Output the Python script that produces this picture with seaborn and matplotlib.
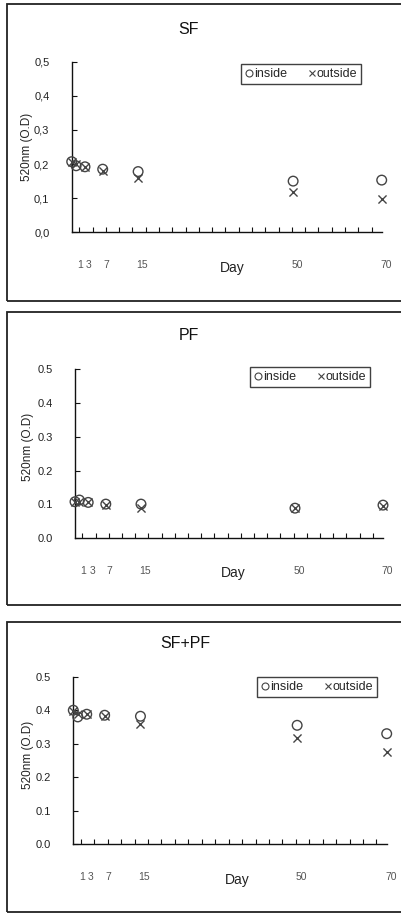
import matplotlib
matplotlib.use("Agg")
import matplotlib.pyplot as plt
import matplotlib.transforms as mtransforms
from matplotlib.lines import Line2D
from matplotlib.patches import Rectangle
import numpy as np
import pandas as pd
import seaborn as sns

days = [0, 1, 3, 7, 15, 50, 70]
day_labels = ["1", "3", "7", "15", "50", "70"]
day_label_pos = [1, 3, 7, 15, 50, 70]

sf_inside = [0.207, 0.195, 0.192, 0.185, 0.178, 0.150, 0.153]
sf_outside = [0.205, 0.200, 0.192, 0.180, 0.160, 0.119, 0.099]
pf_inside = [0.108, 0.113, 0.106, 0.101, 0.101, 0.089, 0.098]
pf_outside = [0.108, 0.108, 0.106, 0.098, 0.089, 0.089, 0.094]
mix_inside = [0.400, 0.380, 0.388, 0.385, 0.382, 0.355, 0.330]
mix_outside = [0.397, 0.390, 0.388, 0.382, 0.360, 0.316, 0.276]

W, H = 402, 913
GRAY = "#444444"

sns.set_style("white")
plt.rcParams["font.family"] = ["Liberation Sans", "DejaVu Sans"]

fig = plt.figure(figsize=(W / 100, H / 100), dpi=100)


def px_axes(left, right, top, bottom):
    return fig.add_axes([left / W, (H - bottom) / H, (right - left) / W, (bottom - top) / H])


def draw_panel(ax, title, inside, outside, comma, title_xy, ylab_xy, day_xy, leg_xy):
    df = pd.DataFrame({"day": days, "inside": inside, "outside": outside})
    sns.scatterplot(data=df, x="day", y="inside", ax=ax, marker="o", s=48,
                    facecolors="none", edgecolor=GRAY, linewidth=1.0, zorder=3)
    sns.scatterplot(data=df, x="day", y="outside", ax=ax, marker="x", s=34,
                    color=GRAY, linewidth=1.0, zorder=3)
    ax.set_xlim(0, 70)
    ax.set_ylim(0, 0.5)
    ax.set_xlabel("")
    ax.set_ylabel("")
    for s in ["top", "right"]:
        ax.spines[s].set_visible(False)
    for s in ["left", "bottom"]:
        ax.spines[s].set_color("#111111")
        ax.spines[s].set_linewidth(1.0)
    for coll in ax.collections:
        coll.set_clip_on(False)

    yt = [0.0, 0.1, 0.2, 0.3, 0.4, 0.5]
    ax.set_yticks(yt)
    ax.set_yticklabels([(f"{v:.1f}".replace(".", ",") if comma else f"{v:.1f}") for v in yt])
    ax.tick_params(axis="y", left=True, direction="in", length=3.5, width=0.8,
                   color="#111111", labelsize=8, labelcolor="#222222", pad=16)

    ax.set_xticks(day_label_pos)
    ax.set_xticklabels(day_labels)
    ax.set_xticks(np.arange(1.7, 70, 3), minor=True)
    ax.tick_params(axis="x", which="major", bottom=True, length=0, labelsize=7.5,
                   labelcolor="#555555", pad=20)
    ax.tick_params(axis="x", which="minor", bottom=True, direction="in", length=3.5,
                   width=0.8, color="#111111")
    offset = mtransforms.ScaledTranslation(4 / 100, 0, fig.dpi_scale_trans)
    for lab in ax.get_xticklabels():
        lab.set_transform(lab.get_transform() + offset)

    fig.text(title_xy[0] / W, 1 - title_xy[1] / H, title, ha="center", va="center",
             fontsize=11.5, color="#111111")
    fig.text(ylab_xy[0] / W, 1 - ylab_xy[1] / H, "520nm (O.D)", rotation=90,
             ha="center", va="center", fontsize=8.5, color="#222222")
    fig.text(day_xy[0] / W, 1 - day_xy[1] / H, "Day", ha="center", va="center",
             fontsize=10, color="#222222")

    handles = [
        Line2D([], [], linestyle="", marker="o", markersize=5, markerfacecolor="none",
               markeredgecolor=GRAY, markeredgewidth=0.8),
        Line2D([], [], linestyle="", marker="x", markersize=5, color=GRAY,
               markeredgewidth=0.8),
    ]
    leg = ax.legend(handles, ["inside", "outside"], ncol=2, loc="center",
                    bbox_to_anchor=(leg_xy[0] / W, 1 - leg_xy[1] / H),
                    bbox_transform=fig.transFigure, fontsize=9, frameon=True,
                    fancybox=False, edgecolor="#111111", handlelength=0.7,
                    handletextpad=0.05, columnspacing=1.6, borderpad=0.3,
                    borderaxespad=0)
    leg.get_frame().set_linewidth(1.0)


ax1 = px_axes(71.7, 381.7, 61.7, 232.3)
draw_panel(ax1, "SF", sf_inside, sf_outside, True,
           (189, 30), (27, 147), (232, 268), (301, 74))

ax2 = px_axes(75, 383, 369, 538.3)
draw_panel(ax2, "PF", pf_inside, pf_outside, False,
           (189, 335), (28, 447), (233, 573), (310, 377))

ax3 = px_axes(73.3, 386.7, 676.7, 844.3)
draw_panel(ax3, "SF+PF", mix_inside, mix_outside, False,
           (185, 643), (28, 755), (237, 880), (317, 687))

for top, bottom in [(4, 301), (312, 605), (622, 912)]:
    fig.patches.append(Rectangle((7 / W, 1 - bottom / H), (W + 10 - 7) / W, (bottom - top) / H,
                                 transform=fig.transFigure, fill=False,
                                 edgecolor="#222222", linewidth=1.3))

fig.savefig("out.png", dpi=100)
